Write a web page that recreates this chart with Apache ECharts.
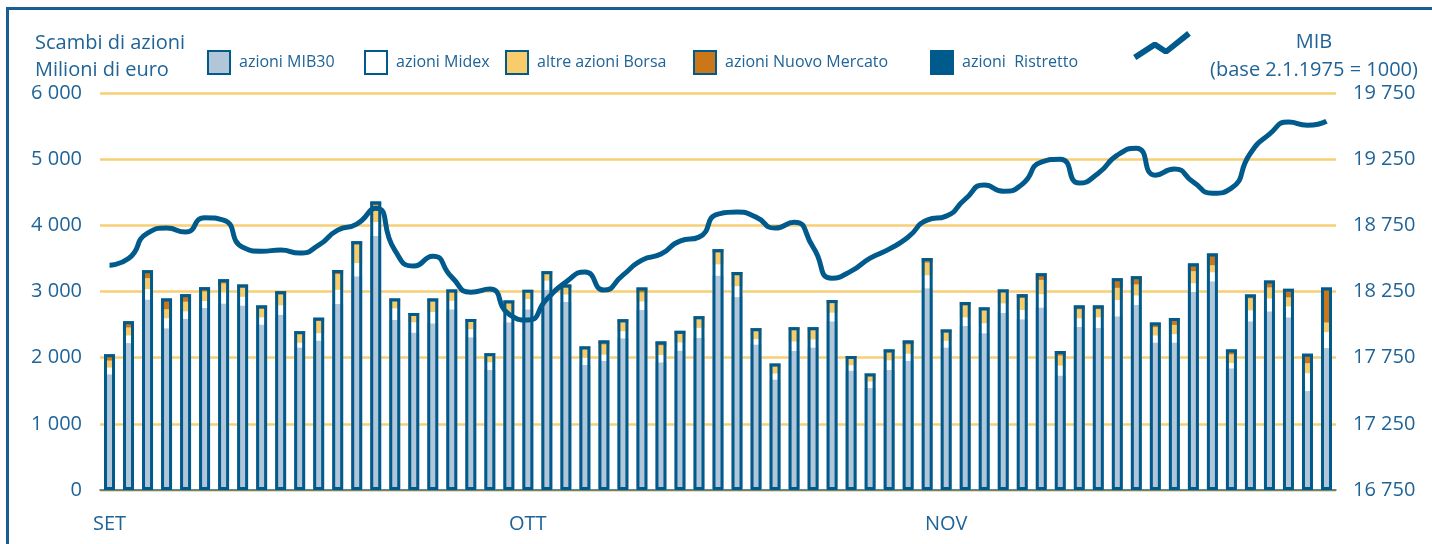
<!DOCTYPE html>
<html>
<head>
<meta charset="utf-8">
<script src="https://cdn.jsdelivr.net/npm/echarts@6/dist/echarts.min.js"></script>
<style>
  html, body { margin: 0; padding: 0; background: #fff; }
  #main { width: 1432px; height: 544px; }
</style>
</head>
<body>
<div id="main"></div>
<script>
// trading days, Sept - Nov
var categories = [];
for (var d = 1; d <= 65; d++) categories.push(String(d));
var monthLabels = { 0: 'SET', 22: 'OTT', 44: 'NOV' };

// milioni di euro
var mib30 = [1750,2220,2880,2445,2590,2750,2820,2790,2500,2650,
  2155,2260,2810,3230,3840,2570,2380,2520,2730,2310,
  1815,2535,2730,3025,2845,1890,1955,2295,2720,1930,
  2110,2300,3240,2915,2200,1670,2105,2155,2550,1805,
  1540,1815,1955,3050,2155,2480,2370,2675,2580,2760,
  1730,2465,2450,2625,2795,2230,2230,2995,3155,1840,
  2550,2700,2610,1495,2145];
var midex = [100,115,155,150,110,105,165,130,110,140,
  70,110,215,200,210,175,155,170,130,120,
  115,150,155,140,110,105,90,105,130,110,
  120,150,170,165,80,90,140,120,130,80,
  100,145,105,195,100,130,150,145,140,200,
  150,130,160,245,145,105,125,130,135,80,
  165,195,165,270,240];
var altre = [105,120,165,135,145,145,135,135,130,165,
  140,190,235,280,250,115,110,160,125,120,
  110,140,105,110,100,145,155,130,135,145,
  125,130,180,160,135,105,170,140,140,110,
  95,120,140,190,125,175,200,175,180,215,
  150,135,120,185,165,125,140,180,105,130,
  180,165,135,150,145];
var nuovoMercato = [85,85,110,155,105,55,55,40,40,40,
  25,35,55,40,50,25,20,35,35,25,
  15,30,25,20,40,20,50,40,65,50,
  40,35,40,45,20,35,35,35,40,20,
  15,35,50,60,35,45,30,25,50,90,
  60,50,50,135,115,60,95,110,170,65,
  50,95,120,135,520];
var ristretto = [10,10,10,10,10,10,10,10,10,10,
  10,10,10,10,10,10,10,10,10,10,
  10,10,10,10,10,10,10,10,10,10,
  10,10,10,10,10,10,10,10,10,10,
  10,10,10,10,10,10,10,10,10,10,
  10,10,10,10,10,10,10,10,10,10,
  10,10,10,10,10];

// indice MIB (base 2.1.1975 = 1000)
var mib = [18449,18499,18691,18729,18699,18808,18789,18585,18555,18563,
  18540,18600,18714,18759,18880,18563,18442,18517,18359,18245,
  18268,18079,18034,18193,18321,18397,18261,18374,18487,18533,
  18631,18661,18835,18850,18812,18729,18774,18585,18351,18404,
  18502,18570,18661,18789,18820,18948,19054,19008,19061,19227,
  19250,19069,19144,19280,19333,19129,19175,19076,18993,19031,
  19295,19439,19530,19507,19537];

var leftTicks = [0, 1000, 2000, 3000, 4000, 5000, 6000];
var rightTicks = [16750, 17250, 17750, 18250, 18750, 19250, 19750];

var totals = mib30.map(function (v, i) {
  return v + midex[i] + altre[i] + nuovoMercato[i] + ristretto[i];
});

var blue = '#005a8c';
var textBlue = '#1f6397';
var font = 'Open Sans';

function spaced(v) {
  return String(v).replace(/\B(?=(\d{3})+(?!\d))/g, ' ');
}

function stackBar(name, data, color) {
  return {
    name: name, type: 'bar', stack: 'tot', data: data,
    barWidth: 11, barGap: '-100%',
    itemStyle: { color: color }
  };
}

var legendBase = {
  orient: 'horizontal', top: 50, padding: 0,
  itemWidth: 22, itemHeight: 23, icon: 'rect',
  selectedMode: false,
  itemStyle: { borderColor: blue, borderWidth: 2 },
  textStyle: { color: textBlue, fontSize: 16, fontFamily: font, padding: [0, 0, 0, 4] }
};
function legendAt(name, left) {
  return Object.assign({}, legendBase, { data: [name], left: left });
}

var chartDom = document.getElementById('main');
var myChart = echarts.init(chartDom);
var option = {
  animation: false,
  title: [
    {
      text: 'Scambi di azioni\nMilioni di euro', left: 35, top: 30, padding: 0,
      textStyle: { color: textBlue, fontSize: 20, fontWeight: 'normal', fontFamily: font, lineHeight: 27 }
    },
    {
      text: 'MIB\n(base 2.1.1975 = 1000)', left: 1314, top: 28, padding: 0, textAlign: 'center',
      textStyle: { color: textBlue, fontSize: 20, fontWeight: 'normal', fontFamily: font, lineHeight: 28, align: 'center' }
    }
  ],
  legend: [
    legendAt('azioni MIB30', 207),
    legendAt('azioni Midex', 364),
    legendAt('altre azioni Borsa', 505),
    legendAt('azioni Nuovo Mercato', 693),
    legendAt('azioni  Ristretto', 930),
    Object.assign({}, legendBase, {
      data: [{ name: 'MIB', icon: 'path://M0.4,23.5L20.4,10.5L23.6,10.5L33,16.7L54.2,-0.4L57.9,4.4L34.85,22.4L31.4,22.5L22,16.5L3.6,28.5Z' }],
      left: 1133, top: 31, itemWidth: 58, itemHeight: 29,
      itemStyle: { borderWidth: 0 },
      formatter: function () { return ''; }
    })
  ],
  graphic: [
    {
      type: 'polyline', silent: true,
      shape: { points: [[7.5, 544], [7.5, 8.5], [1432, 8.5]] },
      style: { stroke: '#1a5f94', lineWidth: 3, fill: null }
    }
  ],
  grid: { left: 100, right: 96, top: 93, bottom: 54 },
  xAxis: {
    type: 'category', data: categories, boundaryGap: true,
    axisLine: { lineStyle: { color: '#2a6e9e', width: 1.5 } },
    axisTick: { interval: 0, length: 9, lineStyle: { color: '#7ca7c9', width: 1.5 } },
    axisLabel: {
      interval: 0, margin: 24, color: textBlue, fontSize: 20, fontFamily: font,
      formatter: function (v, i) { return monthLabels[i] || ''; }
    }
  },
  yAxis: [
    {
      type: 'value', min: 0, max: 6000, interval: 1000,
      axisLine: { show: false }, axisTick: { show: false },
      splitLine: { lineStyle: { color: '#f7cf74', width: 2.5 } },
      axisLabel: {
        margin: 18, color: textBlue, fontSize: 20, fontFamily: font,
        customValues: leftTicks, formatter: function (v) { return spaced(v); }
      }
    },
    {
      type: 'value', min: 16750, max: 19750, position: 'right',
      axisLine: { show: false }, axisTick: { show: false }, splitLine: { show: false },
      axisLabel: {
        margin: 17, color: textBlue, fontSize: 20, fontFamily: font,
        customValues: rightTicks, formatter: function (v) { return spaced(v); }
      }
    }
  ],
  series: [
    stackBar('azioni MIB30', mib30, '#b2c6da'),
    stackBar('azioni Midex', midex, '#ffffff'),
    stackBar('altre azioni Borsa', altre, '#f8cc6a'),
    stackBar('azioni Nuovo Mercato', nuovoMercato, '#c97718'),
    stackBar('azioni  Ristretto', ristretto, blue),
    {
      name: 'outline', type: 'bar', data: totals, silent: true, z: 3,
      barWidth: 11, barGap: '-100%',
      itemStyle: { color: 'rgba(0,0,0,0)', borderColor: blue, borderWidth: 3 }
    },
    {
      name: 'MIB', type: 'line', yAxisIndex: 1, data: mib, z: 5,
      smooth: 0.6, showSymbol: false, symbol: 'none',
      itemStyle: { color: blue },
      lineStyle: { color: blue, width: 5 }
    }
  ]
};

option && myChart.setOption(option);
</script>
</body>
</html>
